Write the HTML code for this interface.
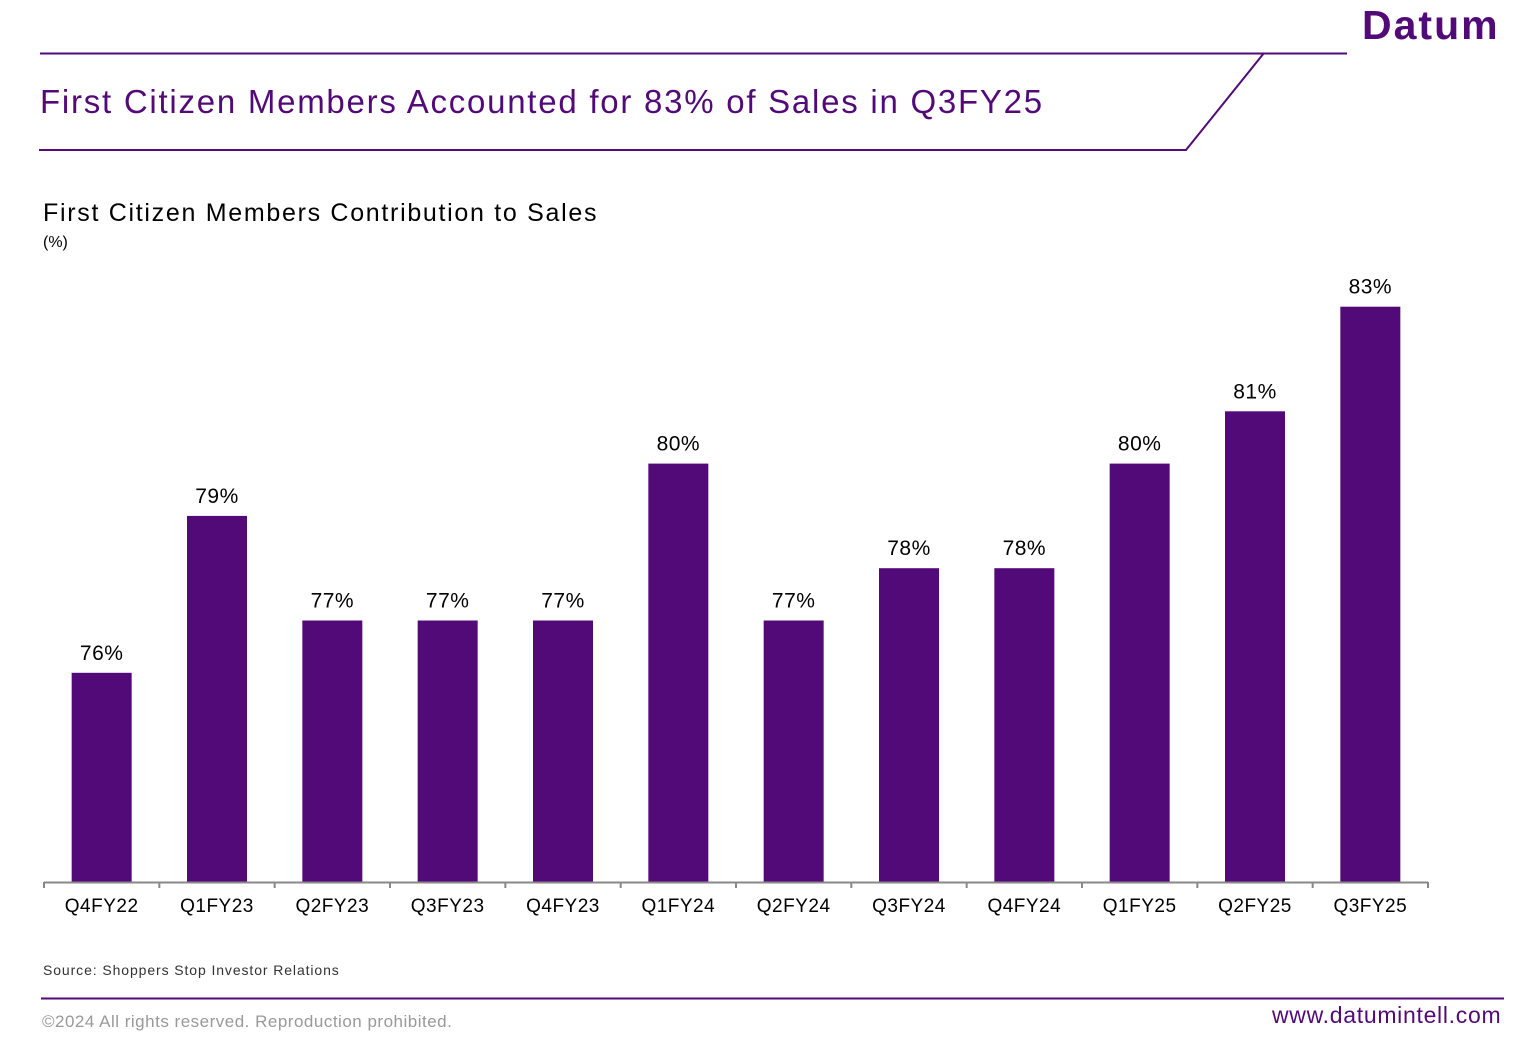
<!DOCTYPE html>
<html><head><meta charset="utf-8">
<style>
body{margin:0;background:#fff;font-family:"Liberation Sans",sans-serif;}
#wrap{position:relative;width:1526px;height:1048px;overflow:hidden;}
.t{position:absolute;white-space:nowrap;}
</style></head>
<body>
<div id="wrap">
<svg width="1526" height="1048" style="position:absolute;left:0;top:0">
<line x1="40" y1="53.5" x2="1347" y2="53.5" stroke="#520a78" stroke-width="2"/>
<polyline points="1264,53 1186,150 39,150" fill="none" stroke="#520a78" stroke-width="2"/>
<line x1="41" y1="998.5" x2="1504" y2="998.5" stroke="#520a78" stroke-width="2"/>
</svg>
<div class="t" style="left:1362px;top:2px;font-size:41px;font-weight:bold;color:#520a78;letter-spacing:2px;">Datum</div>
<div class="t" style="left:40px;top:83px;font-size:33px;color:#520a78;letter-spacing:1.75px;">First Citizen Members Accounted for 83% of Sales in Q3FY25</div>
<div class="t" style="left:43px;top:199px;font-size:25px;color:#000;letter-spacing:1.7px;">First Citizen Members Contribution to Sales</div>
<div class="t" style="left:43px;top:234px;font-size:16px;color:#000;">(%)</div>
<svg id="chart" width="1526" height="1048" style="position:absolute;left:0;top:0"></svg>
<div class="t" style="left:43px;top:962px;font-size:14px;color:#333;letter-spacing:0.9px;">Source: Shoppers Stop Investor Relations</div>
<div class="t" style="left:42px;top:1012px;font-size:17px;color:#999;letter-spacing:0.5px;">©2024 All rights reserved. Reproduction prohibited.</div>
<div class="t" style="left:1272px;top:1002px;font-size:23px;color:#520a78;letter-spacing:0.7px;">www.datumintell.com</div>
</div>
<script>
const categories=["Q4FY22","Q1FY23","Q2FY23","Q3FY23","Q4FY23","Q1FY24","Q2FY24","Q3FY24","Q4FY24","Q1FY25","Q2FY25","Q3FY25"];
const values=[76,79,77,77,77,80,77,78,78,80,81,83];
const labels=["76%","79%","77%","77%","77%","80%","77%","78%","78%","80%","81%","83%"];
const svg=document.getElementById('chart');
const NS='http://www.w3.org/2000/svg';
const x0=44,x1=1428,base=882,yMin=72,pxPer=52.3;
const step=(x1-x0)/categories.length;
const xc=i=>x0+step*(i+0.5);
const y=v=>base-(v-yMin)*pxPer;
function mk(t,a){const e=document.createElementNS(NS,t);for(const k in a)e.setAttribute(k,a[k]);svg.appendChild(e);return e;}
categories.forEach((c,i)=>{
  const r=mk('rect',{x:xc(i)-30,y:y(values[i]),width:60,height:base-y(values[i]),fill:'#520a78'});
  
  
  const l=mk('text',{x:xc(i),y:y(values[i])-13,'text-anchor':'middle','font-size':21,'letter-spacing':0.5,'font-family':'Liberation Sans, sans-serif',fill:'#000'});
  l.textContent=labels[i];
  
  
  const tl=mk('text',{x:xc(i),y:912,'text-anchor':'middle','font-size':19,'letter-spacing':0.5,'font-family':'Liberation Sans, sans-serif',fill:'#000'});
  tl.textContent=c;
  
  
});
const ax=mk('line',{x1:x0,y1:base+0.5,x2:x1,y2:base+0.5,stroke:'#888','stroke-width':2});


for(let i=0;i<=categories.length;i++){
  const t=mk('line',{x1:x0+step*i,y1:base,x2:x0+step*i,y2:base+6,stroke:'#888','stroke-width':2});
  
  
}
</script>
</body></html>
